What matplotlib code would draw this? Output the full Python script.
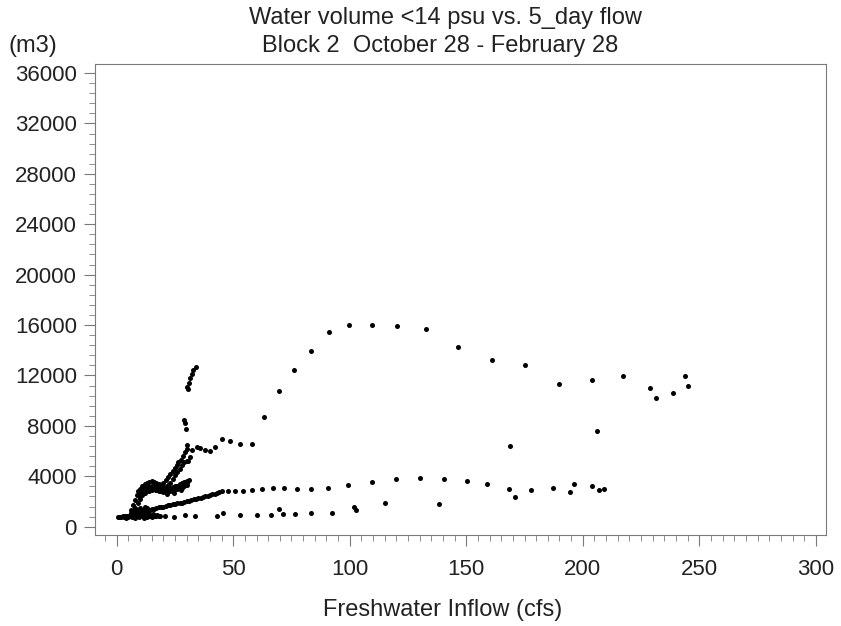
import numpy as np
import matplotlib.pyplot as plt
from matplotlib.ticker import MultipleLocator

plt.rcParams['font.family'] = ['Liberation Sans', 'DejaVu Sans']

# dense cluster near the origin (low flow)
low_x = [0.5, 1, 1.5, 2, 2.5, 3, 3.5, 4, 4.5, 5, 5.5, 6, 6.5, 7, 7.5, 8, 8.5, 9, 9.5, 10,
         10.5, 11, 11.5, 12, 12.5, 13, 13.5, 14, 14.5, 15, 15.5, 16, 16.5, 17, 17.5, 18, 18.5,
         6, 7, 8, 9, 10, 11, 12, 13, 14]
low_y = [760, 800, 730, 780, 850, 760, 820, 710, 880, 780, 900, 820, 760, 950, 850, 700, 1000, 880, 780, 920,
         1050, 850, 700, 980, 880, 800, 1100, 950, 850, 780, 1000, 900, 820, 880, 950, 820, 860,
         1100, 1250, 1400, 1300, 1500, 1350, 1600, 1450, 1250]

# lower rising line, 8 -> 44 cfs
line_x = [8, 9, 10, 11, 12, 13, 14, 15, 16, 17, 18, 19, 20, 21, 22, 23, 24, 25, 26, 27, 28, 29,
          30, 31, 32, 33, 34, 35, 36, 37, 38, 39, 40, 41, 42, 43, 44]
line_y = [1100, 1160, 1180, 1210, 1250, 1290, 1330, 1370, 1420, 1470, 1530, 1560, 1600, 1640, 1690, 1720,
          1770, 1800, 1840, 1860, 1900, 1960, 2000, 2040, 2100, 2160, 2200, 2250, 2300, 2360, 2410, 2450,
          2500, 2560, 2630, 2700, 2780]

# upper bands between 5 and 31 cfs
band_x = [6, 7, 8, 8.5, 9, 10, 11, 12, 13, 14, 15, 16, 17, 18, 19, 20, 21, 22, 23, 24, 25, 26, 27, 28, 29, 30, 31,
          8, 9, 10, 11, 12, 13, 14, 15, 16, 17, 18, 19, 20, 21, 22, 23, 24, 25, 26, 27, 28, 29, 30,
          11, 12, 13, 14, 15, 16, 17, 18, 19, 20, 21, 22, 23, 24, 25, 26, 27, 28, 29, 30,
          9.5, 10.5, 12.5, 15.5, 18.5, 21.5, 24.5, 27.5]
band_y = [1300, 1700, 2100, 2500, 2800, 3000, 3200, 3400, 3500, 3550, 3600, 3580, 3500, 3400, 3300, 3200,
          3100, 3050, 3080, 3150, 3200, 3250, 3350, 3450, 3550, 3650, 3700,
          1500, 1900, 2200, 2500, 2700, 2800, 2850, 2900, 2950, 2900, 2850, 2800, 2750, 2780, 2800, 2850,
          2900, 2950, 3000, 3050, 3100, 3200, 3300,
          2900, 3100, 3200, 3150, 3200, 3250, 3300, 3150, 3050, 3000, 2950, 2900, 3000, 3050, 3100, 3200,
          3250, 3300, 3400, 3500,
          2450, 2650, 3300, 3050, 3250, 2600, 2700, 2900]

# branches climbing to ~6500 and on to ~58 cfs
rise_x = [17, 18, 19, 20, 21, 22, 23, 24, 25, 25.7, 26.4, 27.4, 28.5, 29.3, 30, 30,
          22, 23, 24, 25, 26, 27, 28, 29, 30, 30.7, 31.4, 32.1,
          34.3, 35.7, 37.8, 40.0, 42.1, 45.0, 48.6, 52.9, 57.9]
rise_y = [2900, 3100, 3300, 3500, 3700, 3950, 4200, 4450, 4650, 4900, 5150, 5300, 5600, 5900, 6200, 6480,
          3300, 3500, 3800, 4100, 4300, 4600, 4900, 5100, 5220, 5214, 5556, 6087,
          6349, 6222, 6087, 6032, 6349, 6937, 6802, 6540, 6540]

# vertical stack around 30 cfs
stack_x = [28.8, 29.3, 29.7, 30.3, 30.7, 31.1, 31.4, 32.1, 32.8, 34.0]
stack_y = [8468, 8254, 7730, 11063, 10952, 11429, 11778, 12119, 12437, 12651]

# scattered points at higher flow
high_x = [20.7, 24.6, 29.3, 33.6, 43.1, 45.7, 52.8, 60.3, 66.0, 69.5, 71.4, 76.4, 83.2, 92.3, 102.0, 102.6,
          115.1, 138.4,
          45, 47.8, 50.7, 54.3, 58.1, 62.2, 66.9, 71.7, 77.2, 83.3, 90.7, 99.3, 109.4, 119.7, 130.1, 140.4,
          150.2, 159.0, 168.4, 170.9, 177.9, 187.0, 194.4, 196.1, 203.9, 206.9, 209.0,
          63.3, 69.6, 76.0, 83.3, 91.1, 99.7, 109.4, 120.3, 132.7, 146.4, 161.0, 175.3, 189.6, 204.0,
          217.4, 229.0, 231.3, 238.9, 243.7, 245.3, 168.6, 205.9]
high_y = [849, 794, 952, 849, 873, 1111, 905, 952, 940, 1400, 984, 1000, 1063, 1087, 1540, 1325,
          1881, 1825,
          2857, 2833, 2833, 2857, 2913, 2968, 3048, 3095, 3016, 3016, 3095, 3286, 3524, 3786, 3865, 3810,
          3651, 3365, 2968, 2357, 2889, 3048, 2778, 3413, 3254, 2889, 2992,
          8683, 10730, 12421, 13937, 15444, 16024, 16024, 15944, 15683, 14254, 13246, 12825, 11302, 11619,
          11937, 11032, 10238, 10611, 11937, 11167, 6429, 7595]

flow = np.array(low_x + line_x + band_x + rise_x + stack_x + high_x)
volume = np.array(low_y + line_y + band_y + rise_y + stack_y + high_y)

fig = plt.figure(figsize=(8.41, 6.26), dpi=100)
ax = fig.add_axes([0.113, 0.1454, 0.869, 0.7524])
ax.scatter(flow, volume, s=13, c='black', linewidths=0)

ax.set_xlim(-9.3, 304.3)
ax.set_ylim(-660, 36720)
ax.xaxis.set_major_locator(MultipleLocator(50))
ax.xaxis.set_minor_locator(MultipleLocator(5))
ax.yaxis.set_major_locator(MultipleLocator(4000))
ax.yaxis.set_minor_locator(MultipleLocator(800))

grey = '#7a7a7a'
for s in ax.spines.values():
    s.set_color(grey)
ax.tick_params(which='both', direction='out', color=grey, labelsize=16, labelcolor='#222222')
ax.tick_params(which='major', length=8)
ax.tick_params(which='minor', length=4)
ax.tick_params(axis='x', pad=9)
ax.tick_params(axis='y', pad=5)

fig.text(445 / 841, 1 - 18 / 626, 'Water volume <14 psu vs. 5_day flow',
         ha='center', va='center', fontsize=17, color='#222222')
fig.text(440 / 841, 1 - 46 / 626, 'Block 2  October 28 - February 28',
         ha='center', va='center', fontsize=17, color='#222222')
fig.text(8 / 841, 1 - 46 / 626, '(m3)', ha='left', va='center', fontsize=17, color='#222222')
fig.text(443 / 841, 1 - 610 / 626, 'Freshwater Inflow (cfs)',
         ha='center', va='center', fontsize=17, color='#222222')

fig.savefig('out.png', dpi=100)
